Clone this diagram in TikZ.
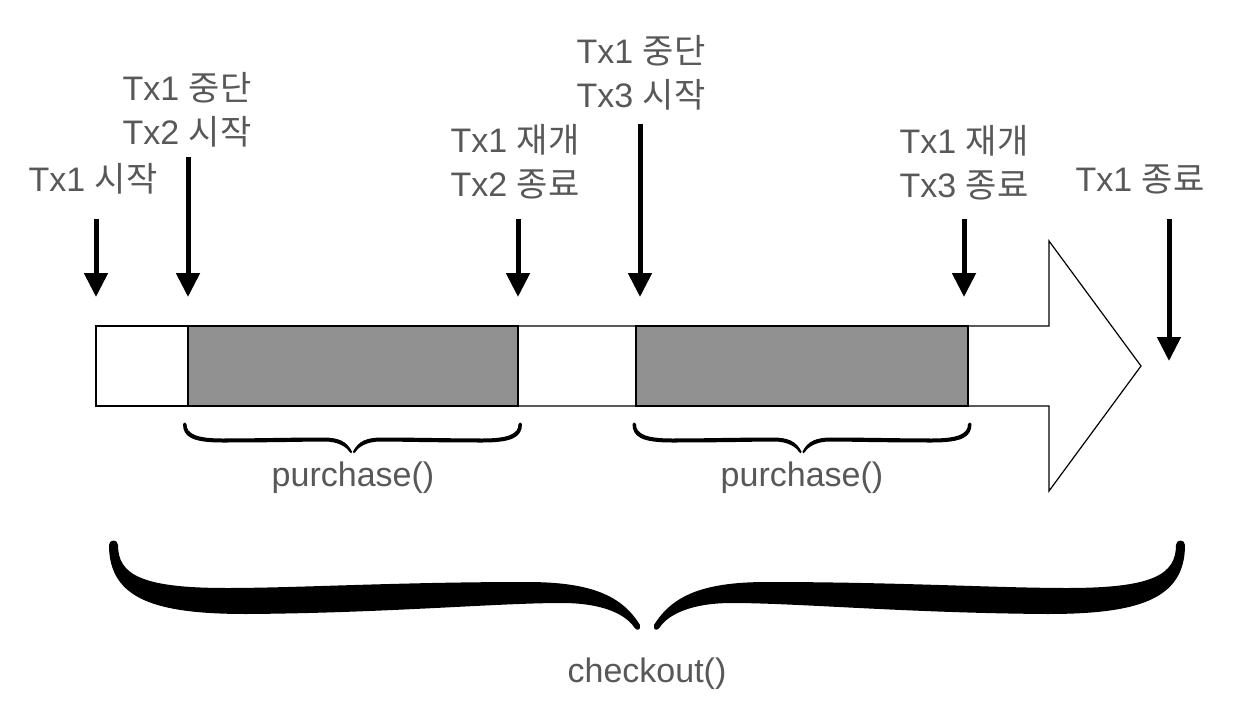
\documentclass[tikz,border=0pt]{standalone}
\usepackage{fontspec}
\setmainfont{Liberation Sans}
\newfontfamily\kr{Noto Sans CJK KR}
\usetikzlibrary{arrows.meta}
\definecolor{txt}{RGB}{88,88,88}
\definecolor{fillgray}{RGB}{145,145,145}
\tikzset{
  lbl/.style={font=\fontsize{34}{44}\selectfont, text=txt, align=center, inner sep=0pt, anchor=base},
  darrow/.style={line width=5pt, -{Triangle[width=23pt,length=24pt]}},
  bigbrace/.pic={
    \foreach \s in {1,-1}{
      \fill[xscale=\s] (-538,545) .. controls (-538,600) and (-490,614) .. (-400,614)
        .. controls (-260,613) and (-150,603) .. (-85,603)
        .. controls (-45,603) and (-22,614) .. (-13,627)
        .. controls (-11,631) and (-6,631) .. (-7,625)
        .. controls (-25,596) and (-55,582) .. (-120,582)
        .. controls (-250,582) and (-350,588) .. (-420,588)
        .. controls (-505,588) and (-529,575) .. (-529,545)
        .. controls (-529,539) and (-538,539) .. (-538,545) -- cycle;
    }
  },
  smallbrace/.pic={
    \foreach \s in {1,-1}{
      \fill[xscale=\s] (-169.5,424) .. controls (-169.5,437) and (-160,442.5) .. (-130,442.5)
        .. controls (-80,442.5) and (-45,441.5) .. (-28,441.5)
        .. controls (-14,441.5) and (-6,447) .. (-3,452)
        .. controls (-2,454) and (0,453.5) .. (-0.5,451.5)
        .. controls (-6,441) and (-14,437.5) .. (-30,437.5)
        .. controls (-60,437.5) and (-100,438.5) .. (-130,438.5)
        .. controls (-156,438.5) and (-166,434) .. (-166,424)
        .. controls (-166,422) and (-169.5,422) .. (-169.5,424) -- cycle;
    }
  }
}
\begin{document}
\begin{tikzpicture}[x=1pt,y=-1pt]
\useasboundingbox (0,0) rectangle (1254,728);

% big timeline arrow
\draw[line width=1.2pt, line join=miter] (96,326) -- (1049,326) -- (1049,241) -- (1141,366)
  -- (1049,491) -- (1049,406) -- (96,406) -- cycle;
\draw[line width=2pt] (96,326) rectangle (188,406);
\draw[line width=2pt, fill=fillgray] (188,326) rectangle (518,406);
\draw[line width=2pt, fill=fillgray] (636,326) rectangle (968,406);

% labels (base anchor = baseline of the last line)
\node[lbl] (l1) at (93,191) {Tx1 {\kr 시작}};
\node[lbl] (l2) at (187,144) {Tx1 {\kr 중단}\\Tx2 {\kr 시작}};
\node[lbl] (l3) at (515,196) {Tx1 {\kr 재개}\\Tx2 {\kr 종료}};
\node[lbl] (l4) at (641,107) {Tx1 {\kr 중단}\\Tx3 {\kr 시작}};
\node[lbl] (l5) at (964,197) {Tx1 {\kr 재개}\\Tx3 {\kr 종료}};
\node[lbl] (l6) at (1140,191) {Tx1 {\kr 종료}};

% arrows
\coordinate (a1s) at (96,219);   \coordinate (a1e) at (96,297);
\coordinate (a2s) at (188,157);  \coordinate (a2e) at (188,297);
\coordinate (a3s) at (518,219);  \coordinate (a3e) at (518,297);
\coordinate (a4s) at (640,124);  \coordinate (a4e) at (640,297);
\coordinate (a5s) at (964,219);  \coordinate (a5e) at (964,297);
\coordinate (a6s) at (1169,219); \coordinate (a6e) at (1169,361);
\foreach \i in {1,...,6}{\draw[darrow] (a\i s) -- (a\i e);}

% braces
\pic at (352.5,0) {smallbrace};
\pic at (802,0) {smallbrace};
\pic at (647,0) {bigbrace};

\node[lbl] (p1) at (353,486) {purchase()};
\node[lbl] (p2) at (802,486) {purchase()};
\node[lbl] (co) at (647,682) {checkout()};
\end{tikzpicture}
\end{document}
